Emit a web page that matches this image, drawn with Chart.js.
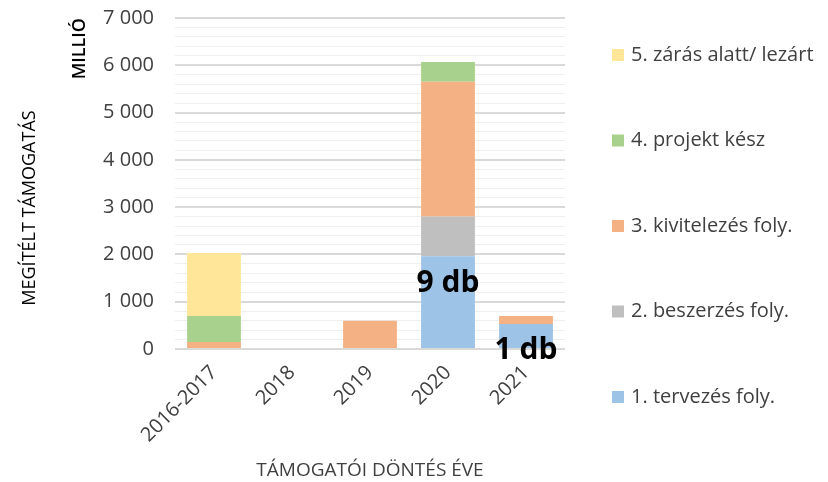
<!DOCTYPE html>
<html>
<head>
<meta charset="utf-8">
<script src="https://cdn.jsdelivr.net/npm/chart.js@4.4.1/dist/chart.umd.min.js"></script>
<style>
  html, body { margin: 0; padding: 0; background: #fff; }
  #wrap { width: 828px; height: 482px; }
</style>
</head>
<body>
<div id="wrap"><canvas id="chart"></canvas></div>
<script>
// data (millió Ft)
var years = ['2016-2017', '2018', '2019', '2020', '2021'];
var tervezes = [0, 0, 0, 1960, 530];
var beszerzes = [0, 0, 0, 840, 0];
var kivitelezes = [150, 0, 600, 2850, 170];
var kesz = [550, 0, 0, 420, 0];
var lezart = [1330, 0, 0, 0, 0];
var countLabels = ['', '', '', '9 db', '1 db'];
var yMax = 7000;

var FONT = '"Open Sans"';

function fmt(v) {
    return String(v).replace(/\B(?=(\d{3})+(?!\d))/g, ' ');
}

// "9 db" style labels on the blue (first) dataset
var countPlugin = {
    id: 'countLabels',
    afterDatasetsDraw: function (chart) {
        var ctx = chart.ctx;
        var meta = chart.getDatasetMeta(0);
        ctx.save();
        ctx.font = 'bold 30px ' + FONT;
        ctx.fillStyle = '#000';
        ctx.textAlign = 'center';
        ctx.textBaseline = 'middle';
        meta.data.forEach(function (bar, i) {
            if (countLabels[i]) ctx.fillText(countLabels[i], bar.x, bar.y + 27);
        });
        ctx.restore();
    }
};

// y title and legend like the Excel original
var sidePlugin = {
    id: 'side',
    afterDraw: function (chart) {
        var ctx = chart.ctx;
        ctx.save();
        ctx.translate(30, 208);
        ctx.rotate(-Math.PI / 2);
        ctx.font = '18px ' + FONT;
        ctx.fillStyle = '#000';
        ctx.textAlign = 'center';
        ctx.textBaseline = 'middle';
        ctx.fillText('MEGÍTÉLT TÁMOGATÁS', 0, 0);
        ctx.restore();

        ctx.save();
        ctx.font = '20px ' + FONT;
        ctx.textBaseline = 'middle';
        var sets = chart.data.datasets.slice().reverse();
        sets.forEach(function (ds, i) {
            var y = 55 + i * 85.5;
            ctx.fillStyle = ds.backgroundColor;
            ctx.fillRect(612, y - 6, 12, 12);
            ctx.fillStyle = '#404040';
            ctx.fillText(ds.label, 631, y);
        });
        ctx.restore();
    }
};

new Chart(document.getElementById('chart'), {
    type: 'bar',
    data: {
        labels: years,
        datasets: [
            { label: '1. tervezés foly.', data: tervezes, backgroundColor: '#9DC3E6' },
            { label: '2. beszerzés foly.', data: beszerzes, backgroundColor: '#BFBFBF' },
            { label: '3. kivitelezés foly.', data: kivitelezes, backgroundColor: '#F4B183' },
            { label: '4. projekt kész', data: kesz, backgroundColor: '#A9D18E' },
            { label: '5. zárás alatt/ lezárt', data: lezart, backgroundColor: '#FFE699' }
        ]
    },
    options: {
        responsive: true,
        maintainAspectRatio: false,
        animation: false,
        layout: { padding: { top: 18, right: 263, left: 0, bottom: 0 } },
        datasets: { bar: { categoryPercentage: 1, barPercentage: 0.69 } },
        plugins: {
            legend: { display: false },
            tooltip: { enabled: false }
        },
        scales: {
            x: {
                stacked: true,
                grid: { display: false },
                border: { display: false },
                ticks: {
                    color: '#404040',
                    font: { family: FONT, size: 20 },
                    minRotation: 45,
                    maxRotation: 45,
                    padding: 4
                },
                title: {
                    display: true,
                    text: 'TÁMOGATÓI DÖNTÉS ÉVE',
                    color: '#404040',
                    font: { family: FONT, size: 19 },
                    padding: { top: 0, bottom: 0 }
                },
                afterFit: function (scale) { scale.height = 133; }
            },
            y: {
                stacked: true,
                min: 0,
                max: yMax,
                border: { display: false },
                grid: {
                    drawTicks: true,
                    tickLength: 18,
                    tickColor: 'rgba(0,0,0,0)',
                    color: function (c) { return c.tick.value % 1000 === 0 ? '#d9d9d9' : '#efefef'; },
                    lineWidth: function (c) { return c.tick.value % 1000 === 0 ? 2 : 1; }
                },
                ticks: {
                    stepSize: 200,
                    autoSkip: false,
                    padding: 3,
                    color: '#404040',
                    font: { family: FONT, size: 20 },
                    callback: function (v) { return v % 1000 === 0 ? fmt(v) : ''; }
                },
                title: {
                    display: true,
                    text: 'MILLIÓ',
                    align: 'end',
                    color: '#000',
                    font: { family: FONT, size: 18, weight: '600' },
                    padding: { top: 69, bottom: 0 }
                },
                afterFit: function (scale) { scale.width = 175; }
            }
        }
    },
    plugins: [countPlugin, sidePlugin]
});
</script>
</body>
</html>
